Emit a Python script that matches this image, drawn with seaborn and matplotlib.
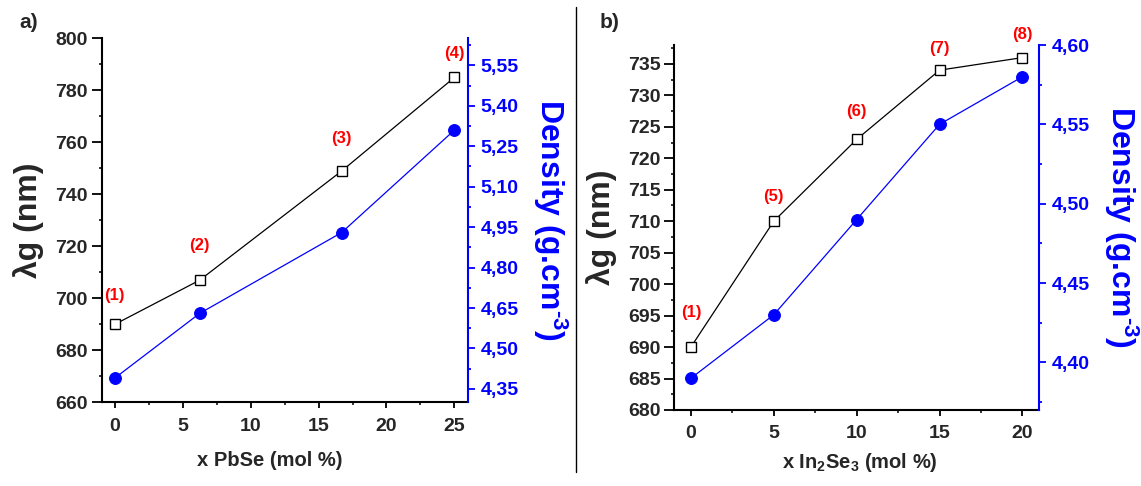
import matplotlib
matplotlib.use('Agg')
import matplotlib.pyplot as plt
import seaborn as sns
from matplotlib.ticker import MultipleLocator, FuncFormatter
from matplotlib.lines import Line2D

# panel a: PbSe series
x_pbse = [0, 6.25, 16.7, 25]
lam_pbse = [690, 707, 749, 785]
dens_pbse = [4.39, 4.63, 4.93, 5.31]
lab_pbse = ['(1)', '(2)', '(3)', '(4)']
laby_pbse = [701, 720.5, 761.5, 794]

# panel b: In2Se3 series
x_in = [0, 5, 10, 15, 20]
lam_in = [690, 710, 723, 734, 736]
dens_in = [4.39, 4.43, 4.49, 4.55, 4.58]
lab_in = ['(1)', '(5)', '(6)', '(7)', '(8)']
laby_in = [695.5, 714, 727.5, 737.5, 739.7]

sns.set_style('ticks')
plt.rcParams['font.family'] = ['Liberation Sans', 'DejaVu Sans']
plt.rcParams['font.weight'] = 'bold'
plt.rcParams['mathtext.default'] = 'regular'

fig = plt.figure(figsize=(11.41, 4.86), dpi=100)
axa = fig.add_axes([0.0892, 0.172, 0.321, 0.749])
axb = fig.add_axes([0.591, 0.1564, 0.3196, 0.751])


def comma(v, pos):
    return f'{v:.2f}'.replace('.', ',')


def panel(ax, x, lam, dens, labs, laby, xlim, ylim, ylim2, ystep, dstep,
          xlabel, xlab_pos):
    sns.lineplot(x=x, y=lam, ax=ax, color='black', lw=0.9, marker='s', ms=7,
                 mfc='white', mec='black', mew=1.0, sort=False, estimator=None)
    tw = ax.twinx()
    sns.lineplot(x=x, y=dens, ax=tw, color='blue', lw=0.9, marker='o', ms=8.5,
                 mfc='blue', mec='blue', sort=False, estimator=None)
    for xi, yi, t in zip(x, laby, labs):
        ax.text(xi, yi, t, color='red', fontsize=12, fontweight='bold',
                ha='center', va='center', clip_on=False)

    ax.set_xlim(*xlim)
    ax.set_ylim(*ylim)
    tw.set_ylim(*ylim2)
    ax.xaxis.set_major_locator(MultipleLocator(5))
    ax.xaxis.set_minor_locator(MultipleLocator(2.5))
    ax.yaxis.set_major_locator(MultipleLocator(ystep))
    ax.yaxis.set_minor_locator(MultipleLocator(ystep / 2))
    tw.yaxis.set_major_locator(MultipleLocator(dstep))
    tw.yaxis.set_minor_locator(MultipleLocator(dstep / 2))
    tw.yaxis.set_major_formatter(FuncFormatter(comma))

    for s in ['top', 'right']:
        ax.spines[s].set_visible(False)
    for s in ['left', 'bottom']:
        ax.spines[s].set_linewidth(1.5)
        ax.spines[s].set_color('black')
    for s in ['top', 'left', 'bottom']:
        tw.spines[s].set_visible(False)
    tw.spines['right'].set_color('blue')
    tw.spines['right'].set_linewidth(1.5)

    ax.tick_params(axis='y', which='major', direction='out', length=7.5,
                   width=1.3, pad=2.5, labelsize=14, color='black')
    ax.tick_params(axis='y', which='minor', direction='out', length=2.5, width=1.3)
    ax.tick_params(axis='x', which='major', direction='out', length=4.5,
                   width=1.3, pad=6.5, labelsize=14, color='black')
    ax.tick_params(axis='x', which='minor', direction='out', length=2.5, width=1.3)
    tw.tick_params(which='major', direction='out', length=5, width=1.3, pad=4,
                   labelsize=14, color='blue', labelcolor='blue')
    tw.tick_params(which='minor', direction='out', length=2.5, width=1.3, color='blue')

    ax.set_xlabel('')
    ax.set_ylabel('')
    tw.set_ylabel('')
    ax.text(xlab_pos[0], xlab_pos[1], xlabel, transform=ax.transAxes,
            ha='center', va='baseline', fontsize=14.5, fontweight='bold')
    ax.text(-0.2, 0.5, 'λg (nm)', transform=ax.transAxes, rotation=90,
            ha='center', va='center', fontsize=23, fontweight='bold')
    ax.text(1.225, 0.5, 'Density (g.cm$^{\u20103}$)', transform=ax.transAxes,
            rotation=270, ha='center', va='center', fontsize=23,
            fontweight='bold', color='blue')


panel(axa, x_pbse, lam_pbse, dens_pbse, lab_pbse, laby_pbse,
      (-0.95, 26), (660, 800), (4.30, 5.65), 20, 0.15,
      'x PbSe (mol %)', (0.459, -0.176))
panel(axb, x_in, lam_in, dens_in, lab_in, laby_in,
      (-1, 21), (680, 738), (4.37, 4.60), 5, 0.05,
      'x In$_2$Se$_3$ (mol %)', (0.509, -0.158))

fig.text(0.0255, 0.953, 'a)', fontsize=15, fontweight='bold', ha='center', va='center')
fig.text(0.534, 0.953, 'b)', fontsize=15, fontweight='bold', ha='center', va='center')
fig.add_artist(Line2D([0.5045, 0.5045], [0.9856, 0.0288], color='black', lw=1.0))

fig.savefig('out.png', dpi=100)
